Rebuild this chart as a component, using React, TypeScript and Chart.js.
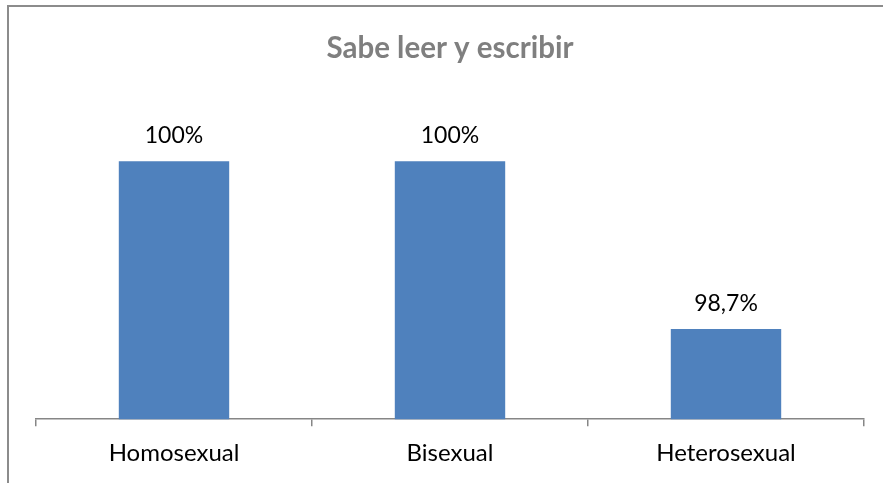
import React, { useEffect, useRef } from "react";
import { Chart, registerables } from "chart.js";

Chart.register(...registerables);

const title = "Sabe leer y escribir";
const categories = ["Homosexual", "Bisexual", "Heterosexual"];
const values = [100, 100, 98.7];
const yMin = 98;
const yMax = 100.2;

const FONT = "Lato, 'Noto Sans', sans-serif";
const GRAY = "#868686";

const fmt = (v: number) => String(v).replace(".", ",") + "%";

const dataLabelPlugin = {
  id: "dataLabels",
  afterDatasetsDraw(chart: any) {
    const ctx = chart.ctx;
    const meta = chart.getDatasetMeta(0);
    ctx.save();
    ctx.font = `23px ${FONT}`;
    ctx.fillStyle = "#000";
    ctx.textAlign = "center";
    ctx.textBaseline = "alphabetic";
    meta.data.forEach((bar: any, i: number) => {
      ctx.fillText(fmt(values[i]), bar.x, bar.y - 18);
    });
    ctx.restore();
  },
};

export default function App() {
  const ref = useRef<HTMLCanvasElement>(null);
  useEffect(() => {
    document.body.style.margin = "0";
    const chart = new Chart(ref.current!, {
      type: "bar",
      data: {
        labels: categories,
        datasets: [
          {
            data: values,
            backgroundColor: "#4F81BD",
            categoryPercentage: 1,
            barPercentage: 0.4,
          },
        ],
      },
      options: {
        animation: false,
        responsive: false,
        maintainAspectRatio: false,
        layout: { padding: { left: 36, right: 19, top: 0, bottom: 2 } },
        plugins: {
          legend: { display: false },
          tooltip: { enabled: false },
          title: {
            display: true,
            text: title,
            color: "#7F7F7F",
            font: { family: FONT, size: 29.5, weight: "bold" },
            padding: { top: 31, bottom: 69 },
          },
        },
        scales: {
          x: {
            offset: true,
            grid: {
              display: true,
              offset: true,
              drawOnChartArea: false,
              drawTicks: true,
              tickLength: 7,
              color: GRAY,
              lineWidth: 1.5,
            },
            border: { display: true, color: GRAY, width: 1.5 },
            ticks: {
              color: "#000",
              font: { family: FONT, size: 24 },
              padding: 13,
            },
          },
          y: {
            display: false,
            min: yMin,
            max: yMax,
          },
        },
      },
      plugins: [dataLabelPlugin],
    });
    return () => chart.destroy();
  }, []);
  return (
    <div style={{ position: "relative", width: 883, height: 483, overflow: "hidden", background: "#fff" }}>
      <canvas ref={ref} width={883} height={483} style={{ position: "absolute", left: 0, top: 0 }} />
      <div
        style={{
          position: "absolute",
          left: 7,
          top: 5,
          width: 900,
          height: 500,
          borderLeft: "2px solid #8c8c8c",
          borderTop: "2px solid #8c8c8c",
          pointerEvents: "none",
        }}
      />
    </div>
  );
}
